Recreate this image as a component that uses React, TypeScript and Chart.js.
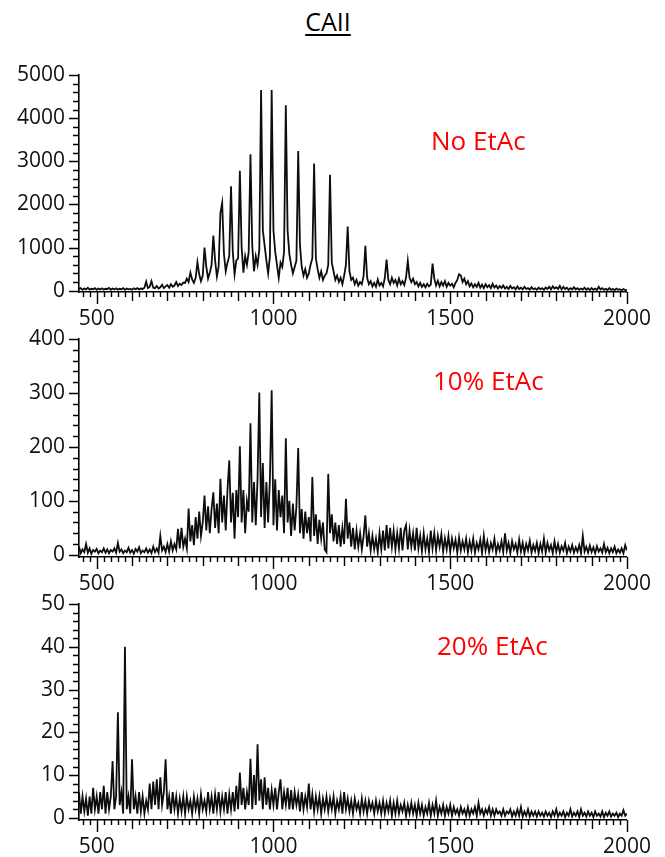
import React, { useEffect, useRef } from "react";
import { Chart, registerables } from "chart.js";

Chart.register(...registerables);

// ---- data ---------------------------------------------------------------
// m/z sampling of the spectra: first m/z and step between points
const MZ_START = 450;
const MZ_STEP = 5;

const X_MIN = 450;
const X_MAX = 2000;
const X_LABEL_TICKS = [500, 1000, 1500, 2000];

const TITLE = "CAII";

// No EtAc (counts), m/z 450 .. 2000 every 5
const NO_ETAC = [
  40, 60, 20, 50, 30, 70, 25, 45, 35, 60, 20, 50, 30, 55, 25, 45, 40, 65, 20, 50,
  30, 55, 25, 45, 35, 60, 20, 50, 30, 40, 25, 55, 35, 60, 30, 50, 40, 70, 210, 60,
  90, 220, 70, 60, 110, 50, 80, 140, 60, 100, 130, 70, 150, 90, 120, 200, 110, 160, 130, 190,
  180, 280, 200, 420, 260, 180, 300, 660, 380, 220, 350, 1000, 560, 280, 420, 600, 1280, 700, 330, 560,
  1800, 2030, 850, 450, 650, 800, 2420, 900, 380, 700, 750, 2780, 1000, 420, 800, 600, 900, 3160, 1050, 450,
  800, 600, 950, 4650, 1400, 1050, 700, 400, 800, 4650, 1400, 900, 600, 300, 650, 550, 900, 4300, 1400, 850,
  600, 400, 550, 700, 3240, 1050, 550, 350, 500, 300, 400, 600, 750, 2950, 750, 500, 300, 450, 250, 350,
  400, 600, 2690, 650, 450, 250, 350, 200, 300, 150, 350, 600, 1490, 450, 250, 300, 150, 250, 120, 200,
  150, 350, 1040, 300, 150, 220, 100, 180, 90, 260, 120, 180, 100, 300, 720, 250, 150, 300, 180, 250,
  120, 280, 150, 220, 130, 300, 690, 300, 200, 280, 150, 200, 100, 180, 90, 150, 80, 160, 100, 140,
  630, 280, 120, 230, 100, 200, 120, 220, 90, 180, 120, 160, 80, 180, 250, 380, 350, 200, 280, 150,
  220, 100, 170, 80, 150, 90, 180, 70, 140, 60, 150, 80, 130, 60, 160, 70, 120, 50, 110, 60,
  120, 50, 90, 40, 110, 50, 80, 30, 100, 40, 70, 30, 90, 40, 60, 25, 80, 35, 55, 20,
  70, 30, 60, 20, 75, 40, 90, 30, 100, 50, 80, 40, 110, 30, 90, 40, 70, 20, 60, 30,
  80, 30, 60, 20, 50, 25, 70, 20, 55, 15, 60, 20, 50, 15, 90, 30, 60, 20, 45, 15,
  60, 20, 40, 15, 50, 20, 35, 10, 40, 15, 20,
];

// 10% EtAc
const TEN_ETAC = [
  15, 3, 10, 5, 20, 4, 12, 2, 9, 6, 11, 3, 8, 5, 12, 4, 10, 3, 9, 6,
  12, 4, 22, 6, 10, 3, 8, 5, 13, 4, 9, 2, 11, 6, 14, 3, 8, 5, 12, 4,
  10, 3, 15, 5, 12, 4, 35, 8, 15, 5, 20, 6, 25, 8, 20, 10, 48, 12, 50, 15,
  30, 12, 86, 25, 55, 18, 70, 30, 80, 35, 60, 110, 45, 90, 40, 85, 116, 50, 95, 40,
  141, 60, 110, 45, 120, 175, 60, 115, 30, 120, 70, 201, 60, 120, 40, 100, 80, 244, 60, 135,
  55, 140, 301, 70, 170, 50, 135, 60, 140, 305, 55, 140, 45, 120, 70, 110, 40, 216, 60, 100,
  35, 95, 45, 90, 198, 40, 85, 30, 80, 40, 70, 25, 144, 35, 75, 20, 65, 30, 60, 10,
  5, 150, 40, 75, 25, 60, 20, 55, 15, 50, 20, 104, 30, 60, 15, 50, 10, 45, 15, 40,
  10, 35, 73, 15, 40, 8, 35, 10, 30, 5, 40, 10, 45, 8, 55, 12, 50, 15, 45, 10,
  40, 12, 50, 8, 45, 55, 10, 45, 15, 40, 8, 50, 12, 35, 6, 40, 10, 30, 5, 45,
  12, 40, 8, 35, 15, 38, 6, 30, 10, 35, 5, 30, 12, 28, 4, 32, 8, 25, 10, 30,
  5, 25, 8, 30, 4, 22, 10, 28, 3, 35, 8, 25, 5, 22, 10, 30, 4, 20, 8, 25,
  5, 40, 8, 22, 3, 25, 10, 20, 4, 28, 6, 22, 3, 20, 8, 26, 4, 18, 7, 22,
  3, 20, 6, 30, 4, 22, 8, 18, 3, 25, 6, 20, 4, 16, 8, 22, 3, 15, 6, 18,
  4, 14, 6, 18, 3, 35, 6, 15, 4, 17, 5, 14, 3, 16, 6, 12, 4, 20, 5, 13,
  3, 12, 5, 15, 3, 10, 4, 12, 3, 18, 8,
];

// 20% EtAc
const TWENTY_ETAC = [
  6, 1, 5, 1.5, 4.5, 0.5, 5, 1, 7, 2, 5, 1, 6, 2, 7.5, 1, 6, 2, 5, 13.3,
  2, 5, 24.7, 3, 6, 1, 40, 2, 5, 1, 13.7, 2, 5, 1, 6, 1.5, 5, 1, 4, 2,
  8, 2, 8.5, 3, 9, 2, 9.5, 3, 6, 13.7, 2, 5, 1, 6, 2, 5, 1, 4.5, 1.5, 5,
  1, 5, 2, 4, 1, 5, 2, 4.5, 1, 5.5, 2, 4, 1.5, 6, 2, 5, 1, 5.5, 2, 6,
  1.5, 5, 2, 6, 1, 5.5, 2, 6, 1.5, 7.5, 2, 10.6, 3, 7, 2, 6, 3, 13.8, 2, 10,
  3, 17.2, 4, 9, 2, 9.5, 3, 7, 2, 6.5, 3, 7, 2, 6, 9, 2, 6, 3, 7, 2,
  6.5, 2, 6, 3, 5.5, 1.5, 6, 2, 5, 2.5, 8, 2, 5.5, 1.5, 5, 2, 5, 1, 4.5, 2,
  5, 1.5, 4.5, 2, 5, 1, 4, 2, 5, 1, 6, 2, 4.5, 1.5, 4, 1, 4.5, 2, 3.5, 1,
  4.5, 1.5, 4, 1, 4, 2, 3.5, 1, 4, 1.5, 3.5, 1, 4, 1, 3.5, 1.5, 4, 0.5, 3.5, 1,
  4, 1, 3, 1.5, 3.5, 0.5, 3, 1, 3.5, 1, 3, 0.5, 3.5, 1, 3, 0.5, 2.5, 1, 3.5, 0.5,
  3, 1, 4, 0.5, 2.5, 1, 3, 0.5, 2.5, 1, 3, 0.5, 2.5, 1, 2, 0.5, 2.5, 1, 2, 0.5,
  2.5, 0.5, 2, 1, 2.5, 0.5, 3.5, 1, 2, 0.5, 2, 1, 2.5, 0.5, 2, 0.5, 2, 1, 1.5, 0.5,
  2, 0.5, 1.5, 1, 2, 0.3, 1.5, 0.5, 2, 0.5, 2.5, 0.3, 1.5, 0.5, 2, 0.3, 1.5, 0.5, 1.5, 0.3,
  1.5, 0.5, 1.2, 0.3, 1.5, 0.5, 1.2, 0.2, 1.5, 0.5, 2, 0.3, 1.2, 0.5, 1.5, 0.2, 1.2, 0.5, 2, 0.3,
  1.2, 0.5, 1.5, 0.2, 2, 0.5, 1.2, 0.3, 1.5, 0.5, 1.2, 0.2, 1.5, 0.5, 1, 0.3, 1.5, 0.2, 1.2, 0.5,
  1.5, 0.3, 1, 0.5, 1.2, 0.2, 1, 0.5, 1.8, 0.5, 1,
];

const Y1_TICKS = [0, 1000, 2000, 3000, 4000, 5000];
const Y2_TICKS = [0, 100, 200, 300, 400];
const Y3_TICKS = [0, 10, 20, 30, 40, 50];

const PANEL_LABELS = ["No EtAc", "10% EtAc", "20% EtAc"];

// ---- layout / styling ---------------------------------------------------
const FONT = "'Open Sans', 'Noto Sans', sans-serif";
const CANVAS_W = 665;

type PanelCfg = {
  values: number[];
  yTicks: number[];
  yMin: number;
  yMinorStep: number;
  label: string;
  top: number;
  height: number;
  padTop: number;
  xAxisH: number;
  labelLeft: number;
  labelTop: number;
};

const PANELS: PanelCfg[] = [
  { values: NO_ETAC, yTicks: Y1_TICKS, yMin: -30, yMinorStep: 200, label: PANEL_LABELS[0],
    top: 40, height: 300, padTop: 35, xAxisH: 48, labelLeft: 431, labelTop: 127 },
  { values: TEN_ETAC, yTicks: Y2_TICKS, yMin: -4, yMinorStep: 20, label: PANEL_LABELS[1],
    top: 305, height: 300, padTop: 34, xAxisH: 48, labelLeft: 433, labelTop: 367 },
  { values: TWENTY_ETAC, yTicks: Y3_TICKS, yMin: -0.5, yMinorStep: 2, label: PANEL_LABELS[2],
    top: 570, height: 287, padTop: 34, xAxisH: 37, labelLeft: 437, labelTop: 632 },
];

const X_MINOR_STEP = 20;
const X_MID_STEP = 100;

const tickMarksPlugin = {
  id: "tickMarks",
  afterDraw(chart: any, _args: any, opts: any) {
    const { ctx, chartArea } = chart;
    const xs = chart.scales.x;
    const ys = chart.scales.y;
    ctx.save();
    ctx.strokeStyle = "#000";
    ctx.lineWidth = 1.4;
    ctx.beginPath();
    // x ticks (below axis)
    const first = Math.ceil(xs.min / X_MINOR_STEP);
    const last = Math.floor(xs.max / X_MINOR_STEP);
    for (let i = first; i <= last; i++) {
      const v = i * X_MINOR_STEP;
      const px = Math.round(xs.getPixelForValue(v)) + 0.5;
      const len = v % 500 === 0 ? 12 : v % X_MID_STEP === 0 ? 9 : 5;
      ctx.moveTo(px, chartArea.bottom);
      ctx.lineTo(px, chartArea.bottom + len);
    }
    // y ticks (left of axis)
    const yStep = opts.yMinorStep;
    const yMajor = opts.yMajorStep;
    const n = Math.round(ys.max / yStep);
    for (let i = 0; i <= n; i++) {
      const v = i * yStep;
      const py = Math.round(ys.getPixelForValue(v)) + 0.5;
      const len = i % Math.round(yMajor / yStep) === 0 ? 10 : 6;
      ctx.moveTo(chartArea.left - len, py);
      ctx.lineTo(chartArea.left, py);
    }
    ctx.stroke();
    ctx.restore();
  },
};

function SpectrumPanel({ cfg }: { cfg: PanelCfg }) {
  const ref = useRef<HTMLCanvasElement | null>(null);
  useEffect(() => {
    if (!ref.current) return;
    const points = cfg.values.map((y, i) => ({ x: MZ_START + i * MZ_STEP, y }));
    const yMax = cfg.yTicks[cfg.yTicks.length - 1];
    const chart = new Chart(ref.current, {
      type: "line",
      data: {
        datasets: [
          {
            data: points,
            borderColor: "#0d0d0d",
            borderWidth: 1.8,
            borderJoinStyle: "miter",
            pointRadius: 0,
            tension: 0,
            fill: false,
          },
        ],
      },
      plugins: [tickMarksPlugin],
      options: {
        animation: false,
        responsive: false,
        events: [],
        layout: { padding: { top: cfg.padTop, right: 28, bottom: 0, left: 0 } },
        plugins: {
          legend: { display: false },
          tooltip: { enabled: false },
          title: { display: false },
          tickMarks: { yMinorStep: cfg.yMinorStep, yMajorStep: cfg.yTicks[1] - cfg.yTicks[0] },
        } as any,
        scales: {
          x: {
            type: "linear",
            min: X_MIN,
            max: X_MAX,
            afterBuildTicks: (s: any) => {
              s.ticks = X_LABEL_TICKS.map((value) => ({ value }));
            },
            afterFit: (s: any) => {
              s.height = cfg.xAxisH;
            },
            grid: { display: false, drawTicks: false },
            border: { display: true, color: "#000", width: 1.6 },
            ticks: {
              maxRotation: 0,
              autoSkip: false,
              padding: 14,
              color: "#111",
              font: { family: FONT, size: 21 },
              callback: (v: any) => String(v),
            },
          },
          y: {
            type: "linear",
            min: cfg.yMin,
            max: yMax,
            afterBuildTicks: (s: any) => {
              s.ticks = cfg.yTicks.map((value) => ({ value }));
            },
            afterFit: (s: any) => {
              s.width = 79;
            },
            grid: { display: false, drawTicks: false },
            border: { display: true, color: "#000", width: 1.6 },
            ticks: {
              autoSkip: false,
              padding: 14,
              color: "#111",
              font: { family: FONT, size: 21 },
              callback: (v: any) => String(v),
            },
          },
        },
      } as any,
    });
    return () => chart.destroy();
  }, [cfg]);
  return (
    <canvas
      ref={ref}
      width={CANVAS_W}
      height={cfg.height}
      style={{ position: "absolute", left: 0, top: cfg.top, width: CANVAS_W, height: cfg.height }}
    />
  );
}

export default function App() {
  return (
    <div style={{ position: "absolute", left: 0, top: 0, width: 665, height: 857, background: "#fff", overflow: "hidden" }}>
      {PANELS.map((p, i) => (
        <SpectrumPanel key={i} cfg={p} />
      ))}
      <div
        style={{
          position: "absolute", left: 0, width: 665, top: 9, textAlign: "center",
          fontFamily: FONT, fontSize: 25, lineHeight: "1", color: "#000",
          textDecoration: "underline", textUnderlineOffset: 3,
          paddingRight: 9, boxSizing: "border-box",
        }}
      >
        {TITLE}
      </div>
      {PANELS.map((p, i) => (
        <div
          key={"l" + i}
          style={{
            position: "absolute", left: p.labelLeft, top: p.labelTop,
            fontFamily: FONT, fontSize: 26, lineHeight: "1", color: "#ff0000", whiteSpace: "nowrap",
          }}
        >
          {p.label}
        </div>
      ))}
    </div>
  );
}
